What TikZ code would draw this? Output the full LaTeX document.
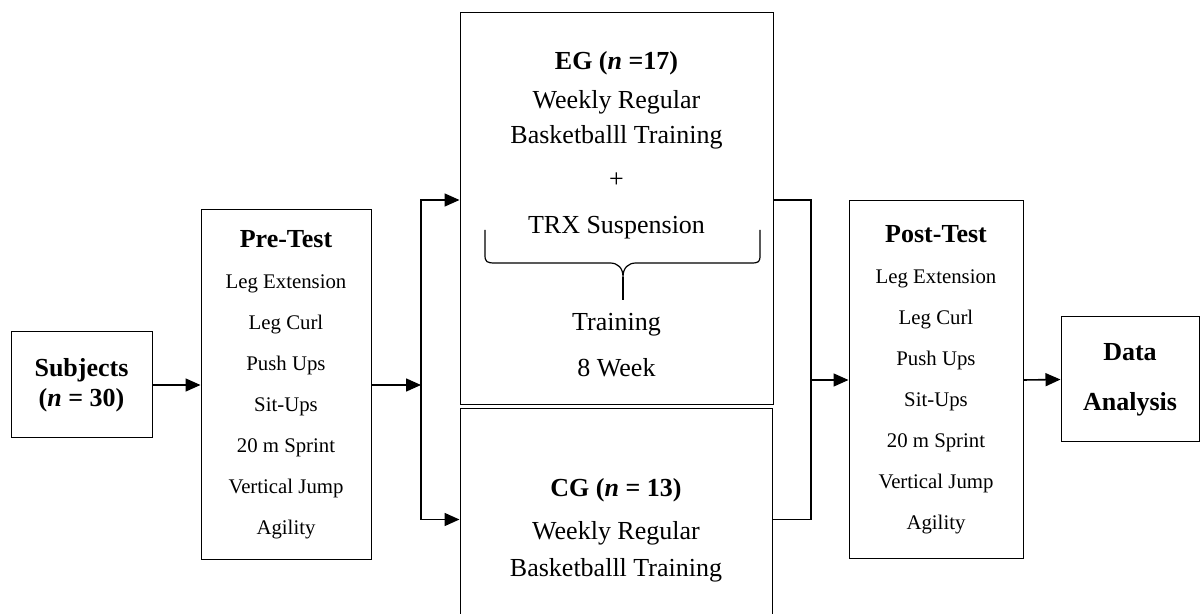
\documentclass[tikz,border=0pt]{standalone}
\usepackage{fontspec}
\setmainfont{Liberation Serif}
\usepackage{tikz}
\usetikzlibrary{positioning,calc,arrows.meta}

% items measured in both tests
\newcommand\testitems{Leg Extension\\Leg Curl\\Push Ups\\Sit-Ups\\20 m Sprint\\Vertical Jump\\Agility}

\begin{document}
\begin{tikzpicture}[x=0.5pt, y=-0.5pt,
    box/.style = {draw, line width=0.5pt, align=center, inner sep=0pt},
    title/.style = {font=\fontsize{13}{15}\selectfont\bfseries},
    body/.style = {font=\fontsize{13}{15}\selectfont},
    testbox/.style = {box, font=\fontsize{10.4}{20.5}\selectfont},
    link/.style = {line width=0.8pt},
    arr/.style = {link, -{Triangle[length=7.5pt, width=6.5pt]}}]

  % page frame
  \useasboundingbox (0,0) rectangle (1201,614);
  \clip (0,0) rectangle (1201,614);

  % subjects
  \node[box, title, minimum width=70.5pt, minimum height=53pt] (subj) at (81.5,385)
    {Subjects\\(\textit{n} = 30)};

  % pre-test
  \node[testbox, minimum width=85pt, minimum height=175pt] (pre) at (286,385)
    {{\fontsize{13}{15}\selectfont\bfseries Pre-Test}\\\testitems};

  % experimental group
  \node[box, minimum width=156.5pt, minimum height=196pt] (eg) at (616.5,209) {};
  \node[title] (egtitle) at (616.5,63) {EG (\textit{n} =17)};
  \node[body] (eg1) at (616.5,102) {Weekly Regular};
  \node[body] (eg2) at (616.5,137) {Basketballl Training};
  \node[body] (egplus) at (616.5,180) {+};
  \node[body] (egtrx) at (616.5,228) {TRX Suspension};
  \node[body] (egtrain) at (616.5,325) {Training};
  \node[body] (egweek) at (616.5,368) {8 Week};

  % brace under TRX
  \draw[line width=0.6pt] (485,230) -- (485,255)
    .. controls (485,262) and (487,263) .. (495,263) -- (610,263)
    .. controls (618,263) and (623,268) .. (623,277)
    .. controls (623,268) and (628,263) .. (636,263) -- (751,263)
    .. controls (759,263) and (760,262) .. (760,255) -- (760,230);
  \draw[line width=0.6pt] (623,277) -- (623,300);

  % control group
  \node[box, minimum width=156pt, minimum height=110.5pt] (cg) at (616,519.5) {};
  \node[title] (cgtitle) at (616,490) {CG (\textit{n} = 13)};
  \node[body] (cg1) at (616,533) {Weekly Regular};
  \node[body] (cg2) at (616,570) {Basketballl Training};

  % post-test
  \node[testbox, minimum width=87pt, minimum height=179pt] (post) at (936,380)
    {{\fontsize{13}{15}\selectfont\bfseries Post-Test}\\\testitems};

  % data analysis
  \node[box, font=\fontsize{13}{25}\selectfont\bfseries, minimum width=69pt,
    minimum height=62.5pt] (data) at (1130,379.5) {Data\\Analysis};

  % connectors
  \coordinate (split) at (421,385);
  \coordinate (merge) at (811,380);
  \coordinate (egin) at ($(eg.west)+(0,-9)$);
  \coordinate (egout) at ($(eg.east)+(0,-9)$);

  \draw[arr] (subj) -- (pre);
  \draw[arr] (pre) -- (split);
  \draw[arr] (split) |- (egin);
  \draw[arr] (split) |- (cg.west);
  \draw[link] (egout) -| (merge) |- (cg.east);
  \draw[arr] (merge) -- (post);
  \draw[arr] (post.east) -- (data.west);
\end{tikzpicture}
\end{document}
